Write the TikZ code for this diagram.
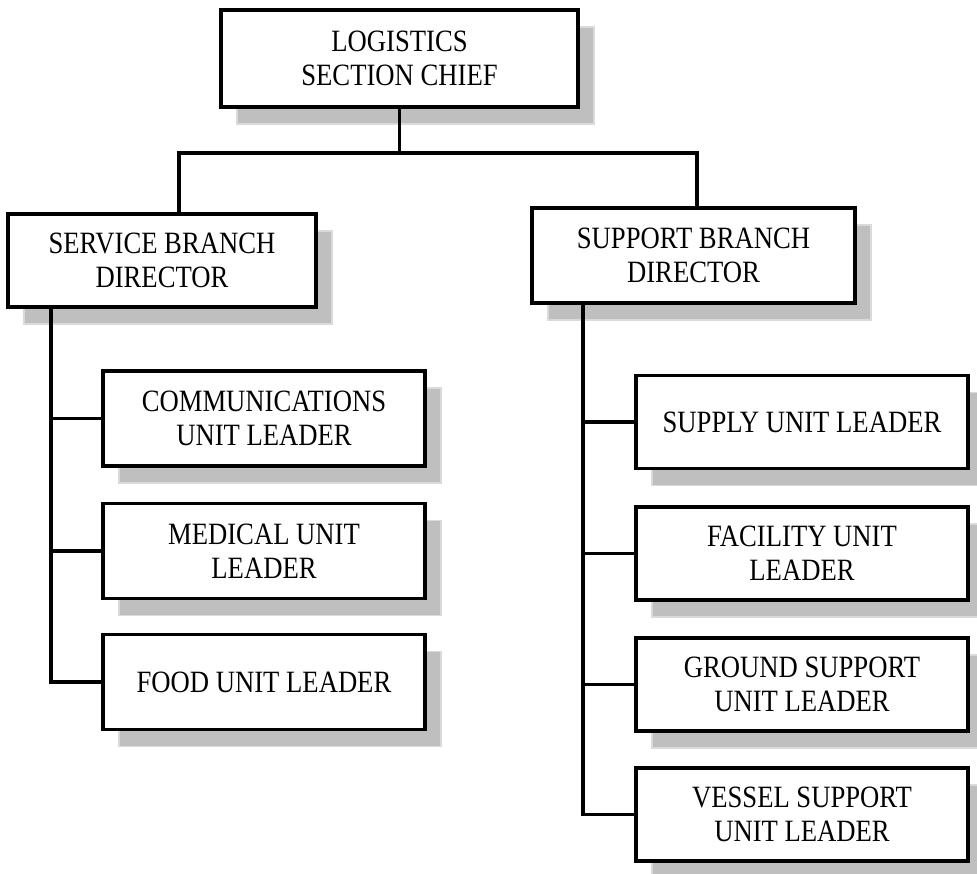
\documentclass[tikz,border=0pt]{standalone}
\usepackage{fontspec}
\setmainfont[FakeStretch=0.86]{Liberation Serif}
\usetikzlibrary{shadows}
\definecolor{shadowgray}{RGB}{191,191,191}
\definecolor{shadowedge}{RGB}{218,218,218}
\tikzset{
  orgbox/.style={
    rectangle, draw=black, line width=3.5pt, fill=white,
    inner sep=0pt, align=center, text=black,
    font=\fontsize{31}{34}\selectfont,
    drop shadow={shadow xshift=16pt, shadow yshift=-17pt,
      fill=shadowgray, draw=shadowedge, line width=1.2pt, opacity=1}
  },
  unitbox/.style={orgbox, minimum width=322pt, minimum height=95pt},
  rightunit/.style={orgbox, minimum width=332pt, minimum height=93pt},
  link/.style={draw=black, line width=3.5pt}
}
\begin{document}
\begin{tikzpicture}[x=1pt, y=-1pt]
  \useasboundingbox (0,0) rectangle (977,873);

  % top level
  \node[orgbox, minimum width=357pt, minimum height=97pt] (chief) at (399.5,58.5)
    {LOGISTICS\\SECTION CHIEF};

  % branches
  \node[orgbox, minimum width=308pt, minimum height=93pt] (service) at (162,260.5)
    {SERVICE BRANCH\\DIRECTOR};
  \node[orgbox, minimum width=323pt, minimum height=95pt] (support) at (693.5,255.5)
    {SUPPORT BRANCH\\DIRECTOR};

  % service branch units
  \node[unitbox] (comm) at (264,418.5) {COMMUNICATIONS\\UNIT LEADER};
  \node[unitbox] (medical) at (264,551) {MEDICAL UNIT\\LEADER};
  \node[unitbox] (food) at (264,682) {FOOD UNIT LEADER};

  % support branch units
  \node[rightunit] (supply) at (802,422) {SUPPLY UNIT LEADER};
  \node[rightunit] (facility) at (802,553.5) {FACILITY UNIT\\LEADER};
  \node[rightunit] (ground) at (802,684.5) {GROUND SUPPORT\\UNIT LEADER};
  \node[rightunit] (vessel) at (802,814.5) {VESSEL SUPPORT\\UNIT LEADER};

  % bus between chief and branches
  \coordinate (busL) at (179,153);
  \coordinate (busR) at (697,153);
  \coordinate (trunkL) at (51,0);
  \coordinate (trunkR) at (583,0);

  \draw[link] (chief.south) -- (chief.south |- busL);
  \draw[link] (busL |- service.north) -- (busL) -- (busR) -- (busR |- support.north);

  % service branch trunk
  \draw[link] (trunkL |- service.south) -- (trunkL |- food.west) -- (food.west);
  \draw[link] (trunkL |- comm.west) -- (comm.west);
  \draw[link] (trunkL |- medical.west) -- (medical.west);

  % support branch trunk
  \draw[link] (trunkR |- support.south) -- (trunkR |- vessel.west) -- (vessel.west);
  \draw[link] (trunkR |- supply.west) -- (supply.west);
  \draw[link] (trunkR |- facility.west) -- (facility.west);
  \draw[link] (trunkR |- ground.west) -- (ground.west);
\end{tikzpicture}
\end{document}
